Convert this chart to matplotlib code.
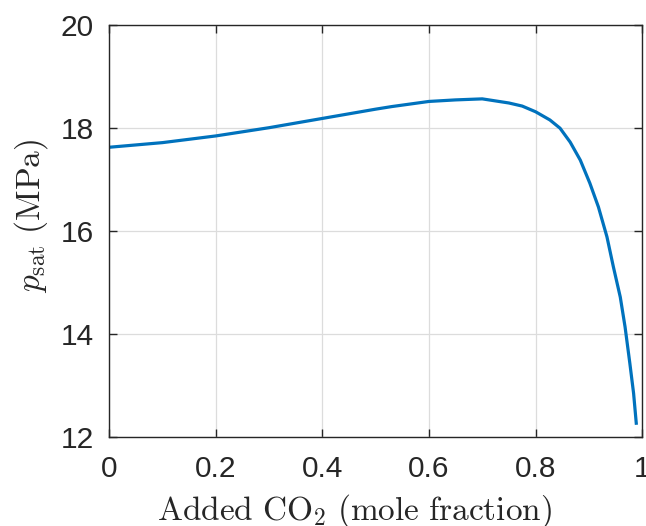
import matplotlib
matplotlib.use("Agg")
import matplotlib.pyplot as plt

# CO2 mole fraction vs saturation pressure (MPa)
co2_frac = [0.0, 0.1, 0.2, 0.3, 0.4, 0.5, 0.53, 0.6, 0.65, 0.7, 0.75, 0.775,
            0.8, 0.827, 0.846, 0.865, 0.884, 0.902, 0.918, 0.934, 0.946,
            0.959, 0.968, 0.977, 0.984, 0.989]
p_sat = [17.63, 17.72, 17.85, 18.01, 18.19, 18.37, 18.42, 18.52, 18.55, 18.57, 18.49, 18.43,
         18.32, 18.16, 18.0, 17.73, 17.38, 16.93, 16.47, 15.89, 15.31,
         14.72, 14.14, 13.43, 12.85, 12.27]

xticks = [0, 0.2, 0.4, 0.6, 0.8, 1]
xticklabels = ["0", "0.2", "0.4", "0.6", "0.8", "1"]
yticks = [12, 14, 16, 18, 20]

plt.rcParams["font.family"] = ["Liberation Sans", "DejaVu Sans"]
plt.rcParams["mathtext.fontset"] = "cm"

fig = plt.figure(figsize=(6.46, 5.26), dpi=100)
ax = fig.add_axes([0.169, 0.169, 0.825, 0.783])

ax.plot(co2_frac, p_sat, color="#0072BD", lw=2.3)

ax.set_xlim(0, 1)
ax.set_ylim(12, 20)
ax.set_xticks(xticks)
ax.set_xticklabels(xticklabels)
ax.set_yticks(yticks)
ax.grid(True, color="#dcdcdc", lw=0.9)
ax.set_axisbelow(True)

for s in ax.spines.values():
    s.set_color("#262626")
    s.set_linewidth(1.0)
ax.tick_params(direction="in", length=6, width=1.0, colors="#262626",
               labelsize=21.5, top=True, right=True)
ax.tick_params(axis="x", pad=13)
ax.tick_params(axis="y", pad=11)

# MATLAB's latex labels sit a bit off-centre; mimic that
ax.set_xlabel(r"$\mathrm{Added\ CO_2\ (mole\ fraction)}$", fontsize=24, color="#262626")
ax.xaxis.set_label_coords(0.46, -0.18, transform=ax.transAxes)
ax.xaxis.label.set_va("center")
ax.set_ylabel(r"$p_{\mathrm{sat}}\ \mathrm{(MPa)}$", fontsize=24, color="#262626")
ax.yaxis.set_label_coords(-0.146, 0.537, transform=ax.transAxes)
ax.yaxis.label.set_va("center")

fig.savefig("out.png", dpi=100)
